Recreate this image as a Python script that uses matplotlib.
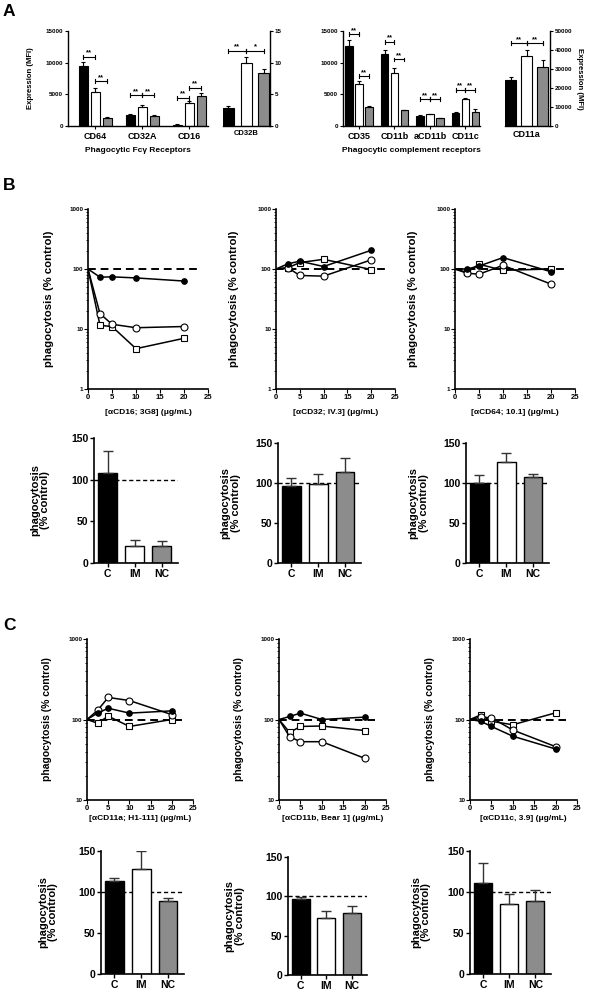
import matplotlib
matplotlib.use('Agg')
import matplotlib.pyplot as plt
import numpy as np
from matplotlib import ticker

plt.rcParams['font.family'] = ['Liberation Sans', 'DejaVu Sans']
plt.rcParams['font.weight'] = 'bold'
plt.rcParams['axes.labelweight'] = 'bold'
plt.rcParams['axes.linewidth'] = 1.0

# ---------------- DATA ----------------
groups = ['C', 'IM', 'NC']
bar_colors = ['#000000', '#ffffff', '#8c8c8c']

# Panel A - Fc gamma receptors (MFI)
fc_cats = ['CD64', 'CD32A', 'CD16']
fc_C = [9500, 1680, 200]
fc_C_err = [550, 160, 50]
fc_IM = [5370, 2950, 3580]
fc_IM_err = [580, 350, 420]
fc_NC = [1300, 1580, 4680]
fc_NC_err = [50, 100, 480]
fc_sig_group = [0, 0, 1, 1, 2, 2]
fc_sig_pair = [0, 1, 0, 1, 0, 1]   # 0: C-IM, 1: IM-NC
fc_sig_y = [10950, 7100, 4900, 4900, 4470, 6050]
fc_sig_txt = ['**', '**', '**', '**', '**', '**']

cd32b_cat = ['CD32B']
cd32b_vals = [2.8, 9.9, 8.3]
cd32b_err = [0.4, 1.05, 0.65]
cd32b_sig_y = [11.9, 11.9]
cd32b_sig_txt = ['**', '*']

# Panel A - complement receptors (MFI)
cr_cats = ['CD35', 'CD11b', 'aCD11b', 'CD11c']
cr_C = [12700, 11400, 1580, 2100]
cr_C_err = [800, 600, 100, 160]
cr_IM = [6600, 8400, 1900, 4260]
cr_IM_err = [550, 700, 50, 240]
cr_NC = [3050, 2500, 1260, 2200]
cr_NC_err = [150, 100, 40, 500]
cr_sig_group = [0, 0, 1, 1, 2, 2, 3, 3]
cr_sig_pair = [0, 1, 0, 1, 0, 1, 0, 1]
cr_sig_y = [14500, 7900, 13300, 10500, 4200, 4200, 5700, 5700]
cr_sig_txt = ['**'] * 8

cd11a_cat = ['CD11a']
cd11a_vals = [24200, 37000, 31200]
cd11a_err = [1400, 3000, 3500]
cd11a_sig_y = [43500, 43500]
cd11a_sig_txt = ['**', '**']

# Panel B/C dose response (% control)
conc = [0, 2.5, 5, 10, 20]
cd16_C = [100, 73, 74, 71, 63]
cd16_IM = [100, 18, 12, 10.5, 11]
cd16_NC = [100, 11.5, 11, 4.7, 7]
cd32_C = [100, 122, 135, 110, 205]
cd32_IM = [100, 105, 78, 76, 142]
cd32_NC = [100, 105, 128, 145, 98]
cd64_C = [100, 100, 112, 155, 90]
cd64_IM = [100, 85, 82, 115, 56]
cd64_NC = [100, 88, 120, 95, 100]

cd11a_C = [100, 120, 138, 120, 128]
cd11a_IM = [100, 130, 188, 172, 115]
cd11a_NC = [100, 90, 110, 82, 100]
cd11b_C = [100, 109, 120, 100, 107]
cd11b_IM = [100, 61, 53, 53, 33]
cd11b_NC = [100, 69, 82, 83, 73]
cd11c_C = [100, 95, 82, 62, 43]
cd11c_IM = [100, 107, 105, 74, 46]
cd11c_NC = [100, 114, 95, 86, 121]

# Panel B/C bar summaries (% control)
bar_cd16 = [108, 21, 20]
bar_cd16_err = [27, 7, 6]
bar_cd32 = [96, 99, 114]
bar_cd32_err = [10, 12, 17]
bar_cd64 = [100, 126, 108]
bar_cd64_err = [10, 11, 3]
bar_cd11a = [113, 128, 89]
bar_cd11a_err = [4, 22, 4]
bar_cd11b = [97, 72, 79]
bar_cd11b_err = [2, 9, 9]
bar_cd11c = [111, 85, 89]
bar_cd11c_err = [24, 12, 13]

b_xlabels = ['[\u03b1CD16; 3G8] (\u03bcg/mL)', '[\u03b1CD32; IV.3] (\u03bcg/mL)',
             '[\u03b1CD64; 10.1] (\u03bcg/mL)']
c_xlabels = ['[\u03b1CD11a; H1-111] (\u03bcg/mL)', '[\u03b1CD11b, Bear 1] (\u03bcg/mL)',
             '[\u03b1CD11c, 3.9] (\u03bcg/mL)']
conc_ticks = [0, 5, 10, 15, 20, 25]

# ---------------- FIGURE ----------------
W, H = 589, 992
fig = plt.figure(figsize=(W / 100, H / 100), dpi=100)


def axpx(x0, y0, x1, y1):
    return fig.add_axes([x0 / W, 1 - y1 / H, (x1 - x0) / W, (y1 - y0) / H])


def bracket(ax, xa, xb, y, txt, ymax):
    dy = ymax * 2.0 / 95
    ax.plot([xa, xb], [y, y], color='black', lw=0.8, clip_on=False)
    for xx in (xa, xb):
        ax.plot([xx, xx], [y - dy, y + dy], color='black', lw=0.8, clip_on=False)
    ax.text((xa + xb) / 2, y + dy * 0.1, txt, ha='center', va='bottom',
            fontsize=5.5, fontweight='bold')


def grouped_bars(ax, series, errs, offsets, width):
    n = len(series[0])
    x = np.arange(n)
    for s, e, off, col in zip(series, errs, offsets, bar_colors):
        ax.bar(x + off, s, width, color=col, edgecolor='black', linewidth=0.8,
               yerr=[np.zeros(n), e], error_kw=dict(ecolor='black', elinewidth=0.8,
                                                    capsize=1.6, capthick=0.8),
               zorder=2)
    return x


# ---- Panel A: Fc gamma ----
axA1 = axpx(68, 31, 208, 126)
off_fc = [-0.255, 0, 0.255]
x = grouped_bars(axA1, [fc_C, fc_IM, fc_NC], [fc_C_err, fc_IM_err, fc_NC_err], off_fc, 0.19)
axA1.set_xlim(-0.574, 2.394)
axA1.set_ylim(0, 15000)
axA1.set_yticks([0, 5000, 10000, 15000])
axA1.set_xticks(x)
axA1.set_xticklabels(fc_cats, fontsize=6.5)
axA1.spines[['top', 'right']].set_visible(False)
axA1.tick_params(axis='y', labelsize=4.5, length=2.5, width=0.8, pad=1)
axA1.tick_params(axis='x', length=2.5, width=0.8, pad=2)
axA1.set_ylabel('Expression (MFI)', fontsize=5.5)
axA1.yaxis.set_label_coords(-0.245, 0.5)
axA1.set_xlabel('Phagocytic Fc\u03b3 Receptors', fontsize=6, labelpad=4)
for g, p, yv, t in zip(fc_sig_group, fc_sig_pair, fc_sig_y, fc_sig_txt):
    bracket(axA1, g + off_fc[p], g + off_fc[p + 1], yv, t, 15000)

# ---- CD32B ----
axA2 = axpx(223, 31, 270, 126)
xb = np.arange(3)
for i in range(3):
    axA2.bar(xb[i], cd32b_vals[i], 0.62, color=bar_colors[i], edgecolor='black', linewidth=0.8,
             yerr=[[0], [cd32b_err[i]]], error_kw=dict(ecolor='black', elinewidth=0.8,
                                                     capsize=1.6, capthick=0.8), zorder=2)
axA2.set_xlim(-0.3, 2.34)
axA2.set_ylim(0, 15)
axA2.set_yticks([0, 5, 10, 15])
axA2.yaxis.tick_right()
axA2.spines[['top', 'left']].set_visible(False)
axA2.set_xticks([1])
axA2.set_xticklabels(cd32b_cat, fontsize=5.5)
axA2.tick_params(axis='y', labelsize=4.5, length=2.5, width=0.8, pad=1)
axA2.tick_params(axis='x', length=0, pad=3)
for k, (yv, t) in enumerate(zip(cd32b_sig_y, cd32b_sig_txt)):
    bracket(axA2, xb[k], xb[k + 1], yv, t, 15)

# ---- Complement ----
axA3 = axpx(343, 31, 480, 126)
off_cr = [-0.28, 0, 0.28]
x = grouped_bars(axA3, [cr_C, cr_IM, cr_NC], [cr_C_err, cr_IM_err, cr_NC_err], off_cr, 0.21)
axA3.set_xlim(-0.45, 3.41)
axA3.set_ylim(0, 15000)
axA3.set_yticks([0, 5000, 10000, 15000])
axA3.set_xticks(x)
axA3.set_xticklabels(cr_cats, fontsize=6.5)
axA3.spines[['top', 'right']].set_visible(False)
axA3.tick_params(axis='y', labelsize=4.5, length=2.5, width=0.8, pad=1)
axA3.tick_params(axis='x', length=2.5, width=0.8, pad=2)
axA3.set_xlabel('Phagocytic complement receptors', fontsize=6, labelpad=4)
for g, p, yv, t in zip(cr_sig_group, cr_sig_pair, cr_sig_y, cr_sig_txt):
    bracket(axA3, g + off_cr[p], g + off_cr[p + 1], yv, t, 15000)

# ---- CD11a ----
axA4 = axpx(505, 31, 550, 126)
for i in range(3):
    axA4.bar(xb[i], cd11a_vals[i], 0.69, color=bar_colors[i], edgecolor='black', linewidth=0.8,
             yerr=[[0], [cd11a_err[i]]], error_kw=dict(ecolor='black', elinewidth=0.8,
                                                     capsize=1.6, capthick=0.8), zorder=2)
axA4.set_xlim(-0.35, 2.47)
axA4.set_ylim(0, 50000)
axA4.set_yticks([0, 10000, 20000, 30000, 40000, 50000])
axA4.yaxis.tick_right()
axA4.yaxis.set_label_position('right')
axA4.spines[['top', 'left']].set_visible(False)
axA4.set_xticks([1])
axA4.set_xticklabels(cd11a_cat, fontsize=6.5)
axA4.tick_params(axis='y', labelsize=4.5, length=2.5, width=0.8, pad=1)
axA4.tick_params(axis='x', length=0, pad=3)
axA4.set_ylabel('Expression (MFI)', fontsize=5.5, rotation=270, labelpad=8)
for k, (yv, t) in enumerate(zip(cd11a_sig_y, cd11a_sig_txt)):
    bracket(axA4, xb[k], xb[k + 1], yv, t, 50000)


# ---- dose response plots ----
def line_panel(box, ylim, dash_end, series, xlabel, ylab_x, ylab_fs, xlab_pad):
    ax = axpx(*box)
    ax.set_yscale('log')
    ax.plot([0, dash_end], [100, 100], ls=(0, (4, 2.5)), color='black', lw=1.4, zorder=1)
    sC, sIM, sNC = series
    ax.plot(conc, sNC, color='black', lw=1.1, marker='s', ms=5, mfc='white', mec='black',
            mew=0.8, markevery=slice(1, None), zorder=3)
    ax.plot(conc, sIM, color='black', lw=1.1, marker='o', ms=5, mfc='white', mec='black',
            mew=0.8, markevery=slice(1, None), zorder=4)
    ax.plot(conc, sC, color='black', lw=1.1, marker='o', ms=4, mfc='black', mec='black',
            mew=0.8, markevery=slice(1, None), zorder=5)
    ax.set_xlim(0, 25)
    ax.set_ylim(*ylim)
    ax.set_xticks(conc_ticks)
    ax.spines[['top', 'right']].set_visible(False)
    ax.spines['left'].set_linewidth(1.2)
    ax.spines['bottom'].set_linewidth(1.2)
    ax.yaxis.set_major_locator(ticker.LogLocator(base=10))
    ax.yaxis.set_minor_locator(ticker.LogLocator(base=10, subs=np.arange(2, 10)))
    ax.yaxis.set_major_formatter(ticker.FuncFormatter(lambda v, p: f'{v:g}'))
    ax.yaxis.set_minor_formatter(ticker.NullFormatter())
    ax.tick_params(axis='y', which='major', labelsize=4.5, length=3, width=0.8, pad=0.5)
    ax.tick_params(axis='y', which='minor', length=1.6, width=0.6)
    ax.tick_params(axis='x', labelsize=5.5, length=3, width=0.8, pad=0.5)
    ax.set_xlabel(xlabel, fontsize=6, labelpad=xlab_pad)
    ax.set_ylabel('phagocytosis (% control)', fontsize=ylab_fs)
    ax.yaxis.set_label_coords(ylab_x, 0.5)
    return ax


def bar_panel(box, vals, errs, ylab_x):
    ax = axpx(*box)
    ax.plot([-0.5, 2.6], [100, 100], ls=(0, (3, 2)), color='black', lw=1.0, zorder=1)
    xx = np.arange(3)
    for i in range(3):
        ax.bar(xx[i], vals[i], 0.7, color=bar_colors[i], edgecolor='black', linewidth=1.0,
               yerr=[[0], [errs[i]]], error_kw=dict(ecolor='#333333', elinewidth=1.0,
                                                  capsize=3.5, capthick=1.0), zorder=2)
    ax.set_xlim(-0.5, 2.6)
    ax.set_ylim(0, 150)
    ax.set_yticks([0, 50, 100, 150])
    ax.set_xticks(xx)
    ax.set_xticklabels(groups)
    ax.spines[['top', 'right']].set_visible(False)
    ax.spines['left'].set_linewidth(1.2)
    ax.spines['bottom'].set_linewidth(1.2)
    ax.tick_params(axis='both', labelsize=7.5, length=3, width=1.0, pad=1)
    ax.set_ylabel('phagocytosis\n(% control)', fontsize=8, linespacing=1.0)
    ax.yaxis.set_label_coords(ylab_x, 0.5)
    return ax


line_panel((88, 209, 208, 389), (1, 1000), 23.5, (cd16_C, cd16_IM, cd16_NC), b_xlabels[0], -0.28, 8.2, 6)
line_panel((276, 209, 395, 389), (1, 1000), 23.5, (cd32_C, cd32_IM, cd32_NC), b_xlabels[1], -0.31, 8.2, 6)
line_panel((455, 209, 575, 389), (1, 1000), 23.5, (cd64_C, cd64_IM, cd64_NC), b_xlabels[2], -0.31, 8.2, 6)

bar_panel((94, 438, 178, 563), bar_cd16, bar_cd16_err, -0.52)
bar_panel((278, 443, 361, 563), bar_cd32, bar_cd32_err, -0.45)
bar_panel((466, 443, 549, 563), bar_cd64, bar_cd64_err, -0.45)

line_panel((87, 639, 193, 800), (10, 1000), 22.5, (cd11a_C, cd11a_IM, cd11a_NC), c_xlabels[0], -0.33, 7.5, 2.5)
line_panel((279, 639, 386, 800), (10, 1000), 22.5, (cd11b_C, cd11b_IM, cd11b_NC), c_xlabels[1], -0.33, 7.5, 2.5)
line_panel((470, 639, 577, 800), (10, 1000), 22.5, (cd11c_C, cd11c_IM, cd11c_NC), c_xlabels[2], -0.33, 7.5, 2.5)

bar_panel((101, 851, 184, 974), bar_cd11a, bar_cd11a_err, -0.52)
bar_panel((288, 857, 367, 975), bar_cd11b, bar_cd11b_err, -0.55)
bar_panel((470, 851, 551, 974), bar_cd11c, bar_cd11c_err, -0.48)

# Panel letters
for lab, yy in (('A', 12), ('B', 186), ('C', 625)):
    fig.text(9 / W, 1 - yy / H, lab, fontsize=12.5, fontweight='bold', ha='center', va='center')

fig.savefig('out.png', dpi=100)
